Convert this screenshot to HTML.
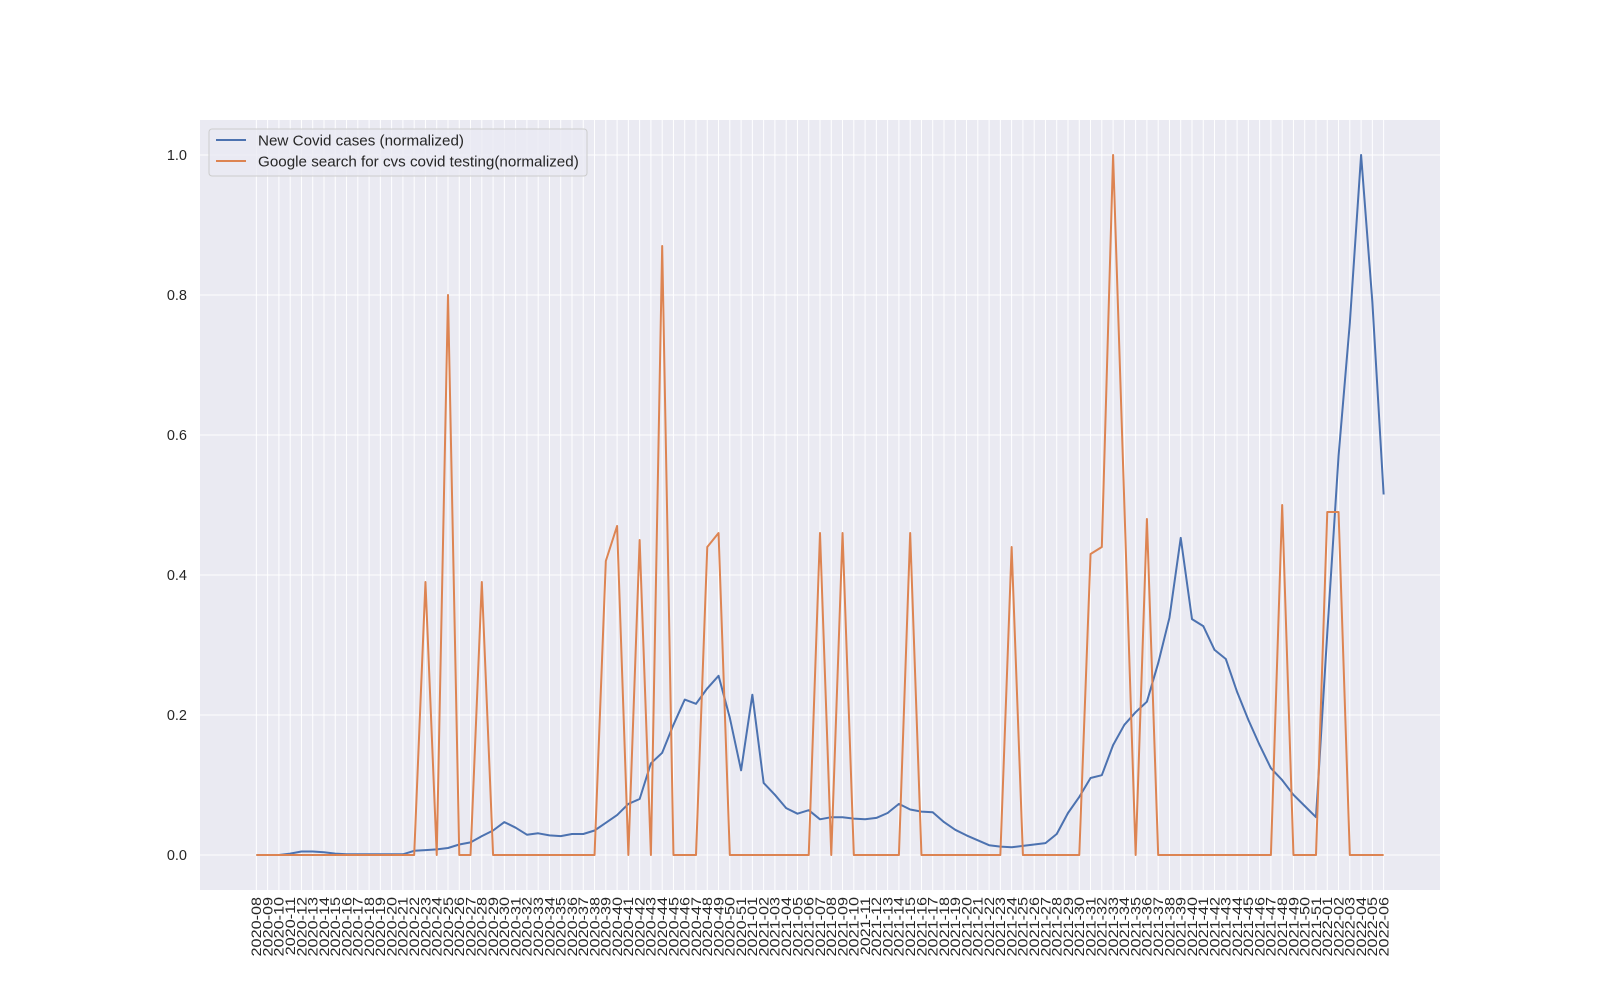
<!DOCTYPE html>
<html><head><meta charset="utf-8"><style>
html,body{margin:0;padding:0;background:#fff;}
svg{display:block;font-family:"Liberation Sans","DejaVu Sans",sans-serif;}
</style></head><body>
<svg id="chart" width="1600" height="1000" viewBox="0 0 1600 1000">
<rect x="200" y="120" width="1240" height="770" fill="#eaeaf2"/>
<g id="grid"></g>
<g id="yticks"></g>
<g id="xticks"></g>
<g id="series"></g>
<g>
<rect x="209" y="129" width="378" height="47" rx="3" fill="#eaeaf2" fill-opacity="0.8" stroke="#cccccc"/>
<line x1="216" y1="140" x2="246" y2="140" stroke="#4c72b0" stroke-width="2"/>
<text x="258" y="145.5" font-size="15.2" fill="#262626">New Covid cases (normalized)</text>
<line x1="216" y1="161" x2="246" y2="161" stroke="#dd8452" stroke-width="2"/>
<text x="258" y="166.5" font-size="15.2" fill="#262626">Google search for cvs covid testing(normalized)</text>
</g>
</svg>
<script>
const cases = [0,0,0,0.002,0.005,0.005,0.004,0.002,0.001,0.001,0.001,0.001,0.001,0.001,0.006,0.007,0.008,0.01,0.015,0.018,0.027,0.035,0.047,0.039,0.029,0.031,0.028,0.027,0.03,0.03,0.035,0.046,0.057,0.073,0.08,0.131,0.146,0.186,0.222,0.216,0.238,0.256,0.196,0.121,0.229,0.103,0.086,0.067,0.059,0.064,0.051,0.054,0.054,0.052,0.051,0.053,0.06,0.073,0.065,0.062,0.061,0.047,0.036,0.028,0.021,0.014,0.012,0.011,0.013,0.015,0.017,0.03,0.06,0.083,0.11,0.114,0.157,0.186,0.204,0.219,0.274,0.339,0.453,0.337,0.327,0.293,0.28,0.233,0.193,0.157,0.124,0.107,0.086,0.07,0.054,0.317,0.57,0.76,1.0,0.79,0.515];
const search = [0,0,0,0,0,0,0,0,0,0,0,0,0,0,0,0.39,0,0.8,0,0,0.39,0,0,0,0,0,0,0,0,0,0,0.42,0.47,0,0.45,0,0.87,0,0,0,0.44,0.46,0,0,0,0,0,0,0,0,0.46,0,0.46,0,0,0,0,0,0.46,0,0,0,0,0,0,0,0,0.44,0,0,0,0,0,0,0.43,0.44,1.0,0.5,0,0.48,0,0,0,0,0,0,0,0,0,0,0,0.5,0,0,0,0.49,0.49,0,0,0,0];
const yTicks = [0.0,0.2,0.4,0.6,0.8,1.0];
const weeks2020 = [8,9,10,11,12,13,14,15,16,17,18,19,20,21,22,23,24,25,26,27,28,29,30,31,32,33,34,35,36,37,38,39,40,41,42,43,44,45,46,47,48,49,50,51];
const weeks2021 = [1,2,3,4,5,6,7,8,9,10,11,12,13,14,15,16,17,18,19,20,21,22,23,24,25,26,27,28,29,30,31,32,33,34,35,36,37,38,39,40,41,42,43,44,45,46,47,48,49,50,51];
const weeks2022 = [1,2,3,4,5,6];
const pad = n => (n<10?'0':'')+n;
const categories = [].concat(weeks2020.map(w=>'2020-'+pad(w)), weeks2021.map(w=>'2021-'+pad(w)), weeks2022.map(w=>'2022-'+pad(w)));
const NS='http://www.w3.org/2000/svg';
const L=200,R=1440,T=120,B=890;
const n=categories.length;
const xmin=-0.05*(n-1), xmax=(n-1)*1.05;
const X=i=>L+(i-xmin)/(xmax-xmin)*(R-L);
const Y=v=>B-(v+0.05)/1.1*(B-T);
const grid=document.getElementById('grid'), yt=document.getElementById('yticks'), xt=document.getElementById('xticks'), ser=document.getElementById('series');
function mk(tag,attrs){const e=document.createElementNS(NS,tag);for(const k in attrs)e.setAttribute(k,attrs[k]);return e;}
yTicks.forEach(v=>{
  const g=mk('line',{x1:L,x2:R,y1:Y(v),y2:Y(v),stroke:'#fff','stroke-width':1});
  
  
  grid.appendChild(g);
  const t=mk('text',{x:L-13,y:Y(v)+5,'text-anchor':'end','font-size':14.5,fill:'#262626'});
  t.textContent=v.toFixed(1);
  
  
  yt.appendChild(t);
});
categories.forEach((c,i)=>{
  const g=mk('line',{x1:X(i),x2:X(i),y1:T,y2:B,stroke:'#fff','stroke-width':1});
  
  
  grid.appendChild(g);
  const t=mk('text',{transform:'translate('+(X(i)+4.8)+',897) rotate(-90) scale(1.2,1)','text-anchor':'end','font-size':13.5,fill:'#262626'});
  t.textContent=c;
  
  
  xt.appendChild(t);
});
function line(vals,color,name){
  const p=mk('polyline',{points:vals.map((v,i)=>X(i).toFixed(2)+','+Y(v).toFixed(2)).join(' '),fill:'none',stroke:color,'stroke-width':2,'stroke-linejoin':'round'});
  
  
  ser.appendChild(p);
}
line(cases,'#4c72b0','cases-line');
line(search,'#dd8452','search-line');
</script>
</body></html>
